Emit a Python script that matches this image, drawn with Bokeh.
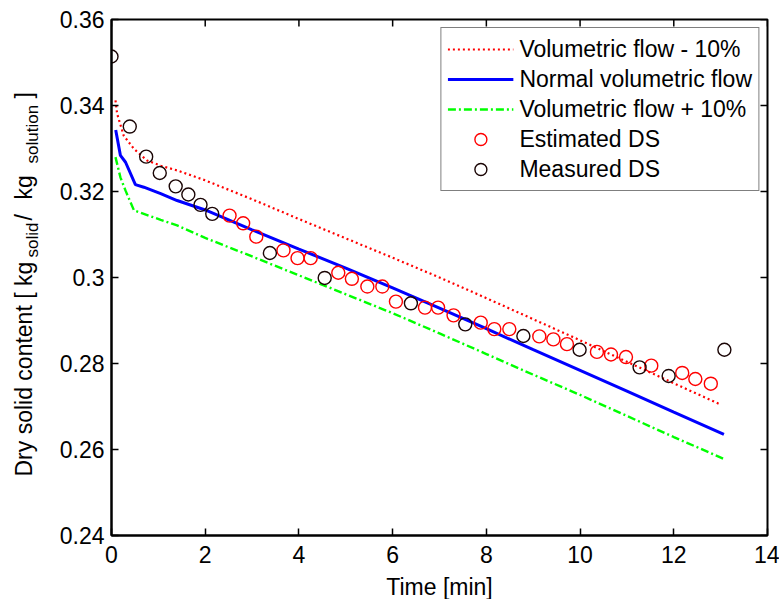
import math
from bokeh.plotting import figure
from bokeh.layouts import row
from bokeh.models import FixedTicker, Range1d, Legend, LegendItem
from bokeh.core.properties import value
from bokeh.embed import file_html
from bokeh.resources import INLINE

# ---------------- data ----------------
# Volumetric flow - 10 %
t_minus = [0.085, 0.12, 0.26, 0.48, 0.76, 1.05, 1.40, 2.0, 3.0, 4.0, 5.0, 6.0, 7.0, 8.0, 9.0, 10.0, 11.0, 12.0, 13.01]
ds_minus = [0.3412, 0.3381, 0.3330, 0.3299, 0.3272, 0.3260, 0.3249, 0.3226, 0.3182, 0.3136, 0.3091, 0.3046,
            0.3000, 0.2952, 0.2903, 0.2854, 0.2804, 0.2754, 0.2704]
# Normal volumetric flow
t_normal = [0.09, 0.19, 0.30, 0.51, 0.69, 1.05, 1.40, 2.0, 3.0, 4.0, 5.0, 6.0, 7.0, 8.0, 9.0, 10.0, 11.0, 12.0, 13.07]
ds_normal = [0.3343, 0.3284, 0.3268, 0.3216, 0.3210, 0.3195, 0.3179, 0.3157, 0.3111, 0.3066, 0.3022, 0.2976,
             0.2929, 0.2881, 0.2832, 0.2784, 0.2736, 0.2687, 0.2635]
# Volumetric flow + 10 %
t_plus = [0.085, 0.19, 0.30, 0.48, 0.69, 1.05, 1.40, 2.0, 3.0, 4.0, 5.0, 6.0, 7.0, 8.0, 9.0, 10.0, 11.0, 12.0, 13.07]
ds_plus = [0.3280, 0.3233, 0.3202, 0.3156, 0.3148, 0.3134, 0.3121, 0.3092, 0.3049, 0.3005, 0.2961, 0.2917,
           0.2870, 0.2822, 0.2774, 0.2727, 0.2678, 0.2629, 0.2578]
# Estimated DS
t_est = [2.52, 2.81, 3.09, 3.67, 3.97, 4.25, 4.84, 5.13, 5.46, 5.78, 6.07, 6.69, 6.97, 7.30, 7.88, 8.17,
         8.49, 9.13, 9.43, 9.72, 10.36, 10.66, 10.98, 11.52, 12.18, 12.46, 12.79]
ds_est = [0.3144, 0.3126, 0.3095, 0.3063, 0.3045, 0.3045, 0.3011, 0.2997, 0.2979, 0.2979, 0.2944, 0.2930,
          0.2930, 0.2912, 0.2895, 0.2880, 0.2880, 0.2863, 0.2856, 0.2845, 0.2827, 0.2821, 0.2815, 0.2795,
          0.2778, 0.2764, 0.2753]
# Measured DS
t_meas = [0.0, 0.39, 0.74, 1.03, 1.37, 1.64, 1.90, 2.15, 3.38, 4.55, 6.39, 7.55, 8.79, 9.99, 11.27, 11.89, 13.08]
ds_meas = [0.3514, 0.3351, 0.3281, 0.3243, 0.3212, 0.3193, 0.3169, 0.3148, 0.3057, 0.2999, 0.2940, 0.2891,
           0.2864, 0.2832, 0.2791, 0.2771, 0.2832]

series_names = ["Volumetric flow - 10%", "Normal volumetric flow", "Volumetric flow + 10%",
                "Estimated DS", "Measured DS"]
x_ticks = [0, 2, 4, 6, 8, 10, 12, 14]
x_tick_labels = ["0", "2", "4", "6", "8", "10", "12", "14"]
y_ticks = [0.24, 0.26, 0.28, 0.30, 0.32, 0.34, 0.36]
y_tick_labels = ["0.24", "0.26", "0.28", "0.3", "0.32", "0.34", "0.36"]
x_label = "Time [min]"
y_label_pieces = ["Dry solid content [ kg", "solid", "/", "kg", "solution", "]"]

# ---------------- layout constants ----------------
FONT = "Liberation Sans"
FS = "23px"
TOTAL_W, TOTAL_H = 779, 599
LBL_W = 52                      # strip holding the rotated y label
FRAME_LEFT, FRAME_TOP = 111, 19
FW, FH = 656, 516
X0, X1, Y0, Y1 = 0, 14, 0.24, 0.36

# ---------------- main figure ----------------
p = figure(width=TOTAL_W - LBL_W, height=TOTAL_H, frame_width=FW, frame_height=FH,
           x_range=Range1d(X0, X1), y_range=Range1d(Y0, Y1),
           output_backend="svg", toolbar_location=None,
           min_border_left=FRAME_LEFT - LBL_W, min_border_right=TOTAL_W - FRAME_LEFT - FW,
           min_border_top=FRAME_TOP, min_border_bottom=TOTAL_H - FRAME_TOP - FH)
p.title.visible = False
p.grid.visible = False
p.outline_line_color = "black"
p.outline_line_width = 2
p.background_fill_color = "white"
p.border_fill_color = "white"

p.xaxis.ticker = FixedTicker(ticks=x_ticks)
p.yaxis.ticker = FixedTicker(ticks=y_ticks)
p.xaxis.major_label_overrides = {t: l for t, l in zip(x_ticks, x_tick_labels)}
p.yaxis.major_label_overrides = {t: l for t, l in zip(y_ticks, y_tick_labels)}
p.xaxis.axis_label = x_label

for ax in (p.xaxis[0], p.yaxis[0]):
    ax.major_tick_in = 7
    ax.major_tick_out = 0
    ax.minor_tick_line_color = None
    ax.axis_line_width = 2
    ax.major_tick_line_width = 1.5
    ax.major_label_text_font = FONT
    ax.major_label_text_font_size = FS
    ax.major_label_text_color = "black"
    ax.axis_label_text_font = FONT
    ax.axis_label_text_font_size = FS
    ax.axis_label_text_font_style = "normal"
    ax.axis_label_text_color = "black"
p.xaxis.major_label_standoff = 10
p.xaxis.axis_label_standoff = 8
p.yaxis.major_label_standoff = 7

# inward ticks on the top and right edges of the box
p.ray(x=x_ticks, y=[Y1] * len(x_ticks), length=7, length_units="screen", angle=-math.pi / 2,
      line_color="black", line_width=1.5)
p.ray(x=[X1] * len(y_ticks), y=y_ticks, length=7, length_units="screen", angle=math.pi,
      line_color="black", line_width=1.5)

# ---------------- glyphs ----------------
r1 = p.line(t_minus, ds_minus, line_color="#ff0000", line_width=2.2, line_dash="2 3")
r2 = p.line(t_normal, ds_normal, line_color="#0000ff", line_width=3)
r3 = p.line(t_plus, ds_plus, line_color="#00ff00", line_width=2.4, line_dash="8 3 2 3")
r4 = p.scatter(t_est, ds_est, marker="circle", size=13, fill_color=None, line_color="#ff0000", line_width=1.4)
r5 = p.scatter(t_meas, ds_meas, marker="circle", size=13, fill_color=None, line_color="#1a0505", line_width=1.4)

legend = Legend(items=[LegendItem(label=n, renderers=[r]) for n, r in zip(series_names, [r1, r2, r3, r4, r5])],
                location="top_right", margin=8, padding=6, spacing=0,
                glyph_width=66, glyph_height=30, label_height=30, label_standoff=6,
                label_text_font=FONT, label_text_font_size=FS, label_text_color="black",
                border_line_color="black", border_line_width=1.5, background_fill_alpha=1)
p.add_layout(legend)

# ---------------- y label strip (rotated text with subscripts) ----------------
lp = figure(width=LBL_W, height=TOTAL_H, frame_width=LBL_W, frame_height=TOTAL_H,
            x_range=Range1d(0, LBL_W), y_range=Range1d(0, TOTAL_H),
            x_axis_type=None, y_axis_type=None, min_border=0, output_backend="svg", toolbar_location=None)
lp.title.visible = False
lp.grid.visible = False
lp.outline_line_color = None
lp.background_fill_color = "white"
lp.border_fill_color = "white"

# start of each piece along the label, in page pixels from the top (layout, not data)
piece_start = [457, 238, 201, 180, 144, 79]
piece_size = [23, 17, 23, 23, 17, 23]
piece_shift = [0, 9, 0, 0, 9, 0]
base_x = 23
for s, start, f, dx in zip(y_label_pieces, piece_start, piece_size, piece_shift):
    lp.text(x=[base_x + dx], y=[TOTAL_H - start], text=[s], angle=math.pi / 2,
            text_font=value(FONT), text_font_size=value(f"{f}px"), text_color="black",
            text_align="left", text_baseline="alphabetic")

layout = row(lp, p, spacing=0)
open("out.html", "w").write(file_html(layout, INLINE))
